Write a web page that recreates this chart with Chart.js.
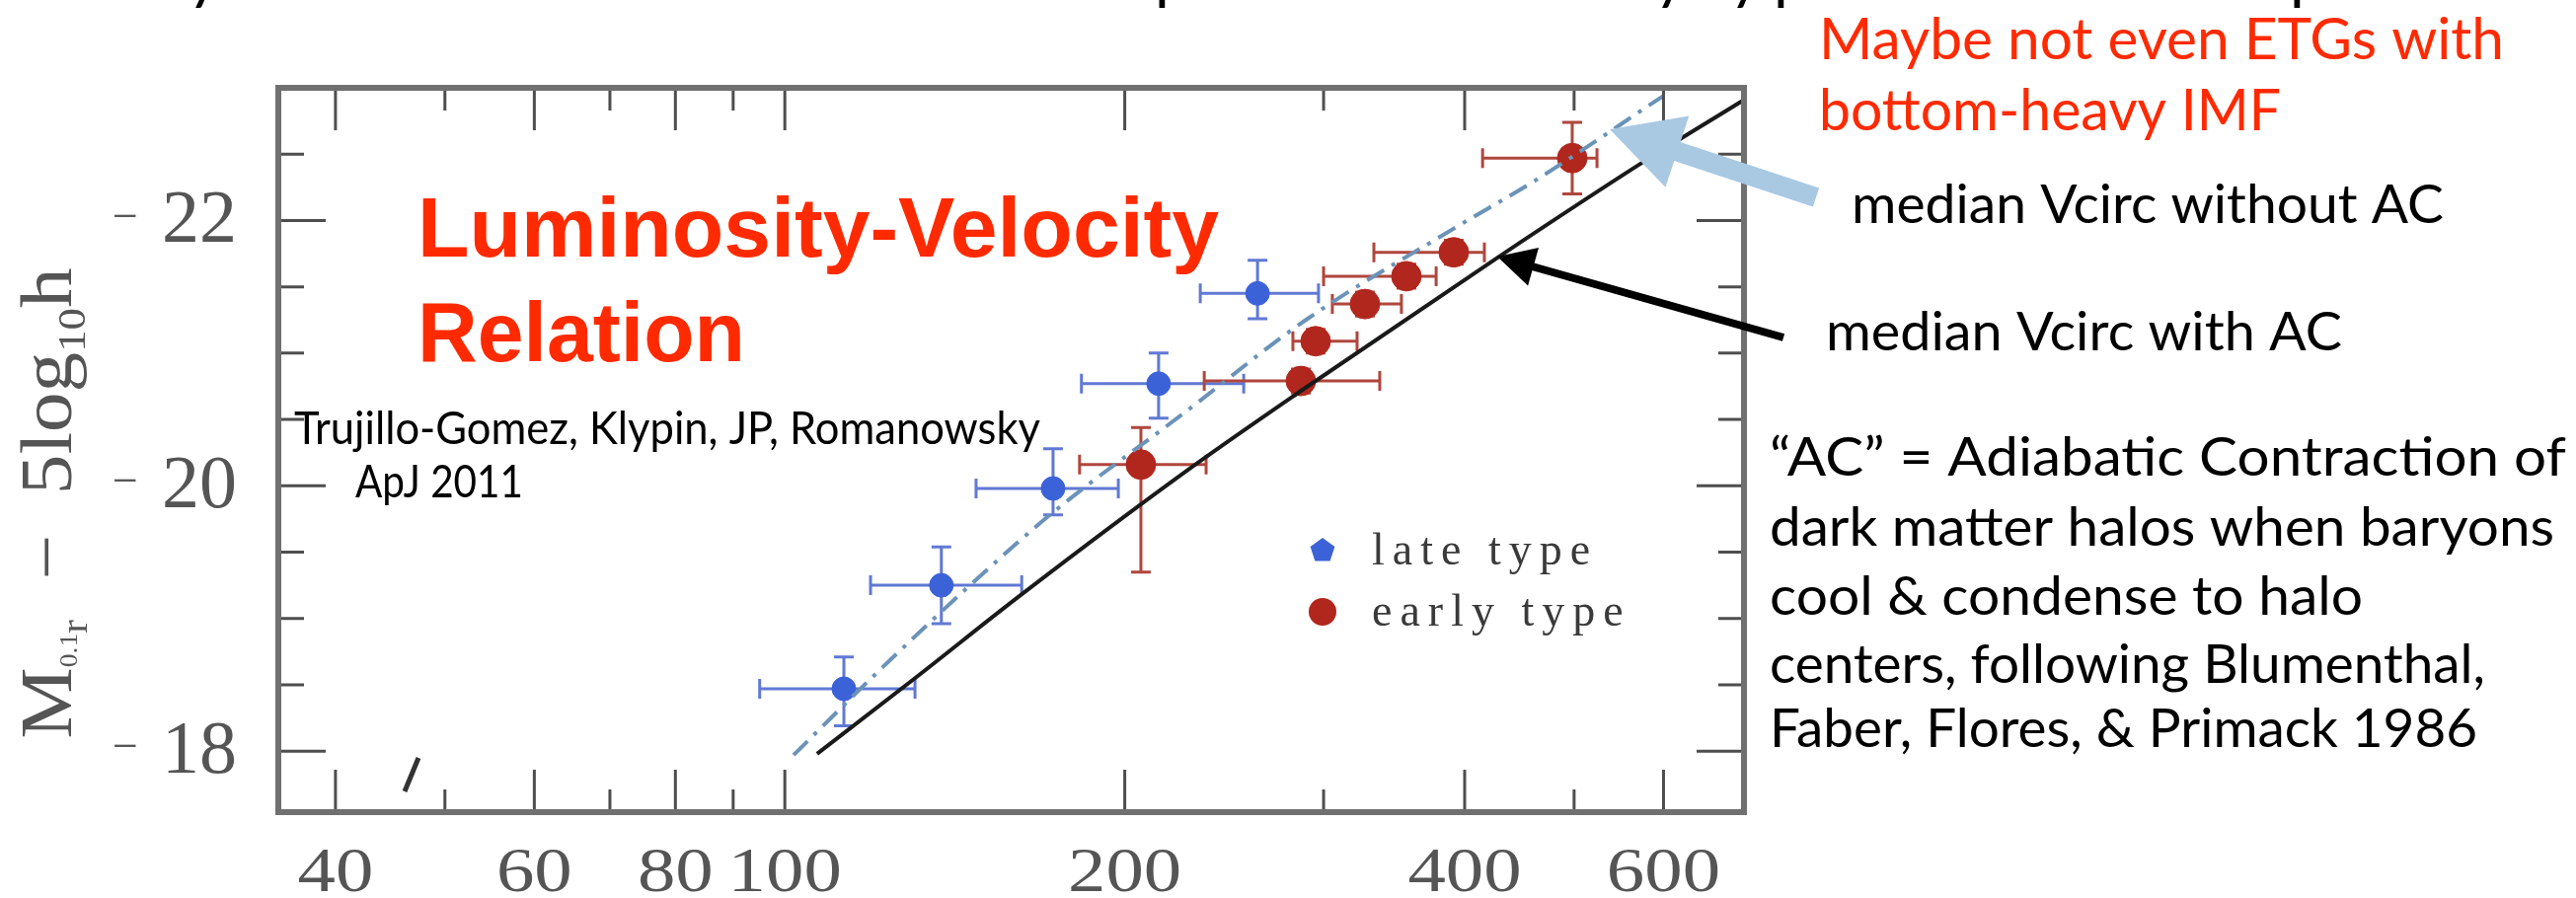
<!DOCTYPE html>
<html>
<head>
<meta charset="utf-8">
<script src="https://cdn.jsdelivr.net/npm/chart.js@4.4.1/dist/chart.umd.min.js"></script>
<style>
  html, body { margin: 0; padding: 0; background: #fff; }
  #wrap { position: relative; width: 2610px; height: 910px; }
</style>
</head>
<body>
<div id="wrap"><canvas id="lvChart"></canvas></div>
<script>
// Late-type galaxies: circular velocity (km/s) and absolute magnitude, with error ranges
const lateV   = [112.8, 137.6, 172.8, 214.3, 262.2];
const lateVLo = [95.0, 119.1, 147.7, 183.1, 233.3];
const lateVHi = [130.4, 162.1, 197.4, 254.9, 296.9];
const lateM   = [-18.47, -19.25, -19.98, -20.77, -21.45];
const lateMLo = [-18.71, -19.54, -20.28, -21.00, -21.70];
const lateMHi = [-18.19, -18.96, -19.78, -20.51, -21.26];

// Early-type galaxies
const earlyV   = [206.7, 286.4, 295.2, 326.4, 355.2, 391.2, 498.1];
const earlyVLo = [182.4, 235.2, 281.8, 305.4, 300.0, 332.4, 414.9];
const earlyVHi = [236.1, 336.4, 321.2, 351.6, 377.4, 416.4, 523.9];
const earlyM   = [-20.16, -20.79, -21.09, -21.37, -21.58, -21.76, -22.47];
const earlyMLo = [-20.44, -20.88, -21.18, -21.46, -21.67, -21.85, -22.74];
const earlyMHi = [-19.35, -20.70, -21.00, -21.28, -21.49, -21.67, -22.20];

// Model curves: median Vcirc with adiabatic contraction (solid) and without (dash-dot)
const withAcV = [106.8, 130.4, 161.4, 225.8, 287.0, 427.7, 578.0, 704.0];
const withAcM = [-17.98, -18.55, -19.17, -20.10, -20.72, -21.72, -22.45, -22.90];
const noAcV = [101.8, 120.3, 145.9, 172.8, 225.8, 289.3, 389.6, 461.6, 600.0];
const noAcM = [-17.97, -18.58, -19.25, -19.80, -20.55, -21.25, -21.93, -22.30, -22.94];

// Axis ticks
const xMajorTicks = [40, 60, 80, 100, 200, 400, 600];
const xMinorTicks = [50, 70, 90, 300, 500];
const yMajorTicks = [-22, -20, -18];
const yMinorTicks = [-22.5, -21.5, -21, -20.5, -19.5, -19, -18.5];

const BLUE = '#3c62d8';
const BLUE_BAR = '#6079d4';
const RED = '#b1271d';
const RED_BAR = '#b0463c';
const ANNOT_RED = '#ff2a00';
const AXIS_GRAY = '#707070';
const TICK_GRAY = '#4e4e4e';
const LABEL_GRAY = '#555555';

const toPoints = (xs, ys) => xs.map((v, i) => ({ x: v, y: ys[i] }));

function fitText(ctx, text, x, y, font, width, color) {
  ctx.save();
  ctx.font = font;
  ctx.fillStyle = color;
  ctx.textBaseline = 'alphabetic';
  ctx.textAlign = 'left';
  const w = ctx.measureText(text).width;
  ctx.translate(x, y);
  ctx.scale(width / w, 1);
  ctx.fillText(text, 0, 0);
  ctx.restore();
}

function drawErrorBars(ctx, xs, ys, vs, vLo, vHi, m, mLo, mHi, color) {
  const cap = 10;
  ctx.save();
  ctx.strokeStyle = color;
  ctx.lineWidth = 3;
  for (let i = 0; i < vs.length; i++) {
    const px = xs.getPixelForValue(vs[i]);
    const py = ys.getPixelForValue(m[i]);
    const x0 = xs.getPixelForValue(vLo[i]);
    const x1 = xs.getPixelForValue(vHi[i]);
    const y0 = ys.getPixelForValue(mLo[i]);
    const y1 = ys.getPixelForValue(mHi[i]);
    ctx.beginPath();
    ctx.moveTo(x0, py); ctx.lineTo(x1, py);
    ctx.moveTo(x0, py - cap); ctx.lineTo(x0, py + cap);
    ctx.moveTo(x1, py - cap); ctx.lineTo(x1, py + cap);
    ctx.moveTo(px, y0); ctx.lineTo(px, y1);
    ctx.moveTo(px - cap, y0); ctx.lineTo(px + cap, y0);
    ctx.moveTo(px - cap, y1); ctx.lineTo(px + cap, y1);
    ctx.stroke();
  }
  ctx.restore();
}

function drawArrow(ctx, tail, tip, shaft, headLen, headHalf, color) {
  const dx = tip[0] - tail[0], dy = tip[1] - tail[1];
  const len = Math.hypot(dx, dy);
  const ux = dx / len, uy = dy / len;
  const bx = tip[0] - ux * headLen, by = tip[1] - uy * headLen;
  ctx.save();
  ctx.strokeStyle = color;
  ctx.fillStyle = color;
  ctx.lineWidth = shaft;
  ctx.lineCap = 'butt';
  ctx.beginPath();
  ctx.moveTo(tail[0], tail[1]);
  ctx.lineTo(bx + ux * 4, by + uy * 4);
  ctx.stroke();
  ctx.beginPath();
  ctx.moveTo(tip[0], tip[1]);
  ctx.lineTo(bx - uy * headHalf, by + ux * headHalf);
  ctx.lineTo(bx + uy * headHalf, by - ux * headHalf);
  ctx.closePath();
  ctx.fill();
  ctx.restore();
}

const errorBarPlugin = {
  id: 'errorBars',
  beforeDatasetsDraw(chart) {
    const { ctx, scales: { x, y } } = chart;
    drawErrorBars(ctx, x, y, lateV, lateVLo, lateVHi, lateM, lateMLo, lateMHi, BLUE_BAR);
    drawErrorBars(ctx, x, y, earlyV, earlyVLo, earlyVHi, earlyM, earlyMLo, earlyMHi, RED_BAR);
  }
};

const framePlugin = {
  id: 'frame',
  afterDatasetsDraw(chart) {
    const { ctx, chartArea: a, scales: { x, y } } = chart;
    ctx.save();
    // ticks pointing inward on all four sides
    ctx.strokeStyle = TICK_GRAY;
    ctx.lineWidth = 3;
    ctx.beginPath();
    const xt = (v, len) => {
      const px = x.getPixelForValue(v);
      ctx.moveTo(px, a.bottom); ctx.lineTo(px, a.bottom - len);
      ctx.moveTo(px, a.top); ctx.lineTo(px, a.top + len);
    };
    const yt = (v, len) => {
      const py = y.getPixelForValue(v);
      ctx.moveTo(a.left, py); ctx.lineTo(a.left + len, py);
      ctx.moveTo(a.right, py); ctx.lineTo(a.right - len, py);
    };
    xMajorTicks.forEach(v => xt(v, 43));
    xMinorTicks.forEach(v => xt(v, 23));
    yMajorTicks.forEach(v => yt(v, 48));
    yMinorTicks.forEach(v => yt(v, 26));
    ctx.stroke();

    ctx.strokeStyle = AXIS_GRAY;
    ctx.lineWidth = 6;
    ctx.strokeRect(a.left, a.top, a.right - a.left, a.bottom - a.top);

    // stray pen mark near the lower-left corner
    ctx.strokeStyle = '#333';
    ctx.lineWidth = 5;
    ctx.beginPath();
    ctx.moveTo(424, 768); ctx.lineTo(410, 802);
    ctx.stroke();

    // tick labels
    ctx.fillStyle = LABEL_GRAY;
    ctx.textAlign = 'center';
    ctx.textBaseline = 'alphabetic';
    xMajorTicks.forEach(v => {
      const px = x.getPixelForValue(v);
      ctx.save();
      ctx.font = '64px "Liberation Serif"';
      ctx.translate(px, 903);
      ctx.scale(1.2, 1);
      ctx.fillText(String(v), 0, 0);
      ctx.restore();
    });
    yMajorTicks.forEach(v => {
      const py = y.getPixelForValue(v);
      ctx.save();
      ctx.textAlign = 'right';
      ctx.textBaseline = 'middle';
      ctx.font = '76px "Liberation Serif"';
      ctx.fillText(String(Math.abs(v)), 240, py + 2);
      ctx.font = '46px "Liberation Serif"';
      ctx.fillText('\u2212', 140, py - 2);
      ctx.restore();
    });

    // rotated y axis title: M_{0.1r} - 5 log_10 h
    const parts = [
      { t: 'M', s: 1, dy: 0 },
      { t: '0.1', s: 0.34, dy: 6 },
      { t: 'r', s: 0.5, dy: 16 },
      { t: '  \u2212  5log', s: 1, dy: 0 },
      { t: '10', s: 0.55, dy: 14 },
      { t: 'h', s: 1, dy: 0 }
    ];
    const base = 74;
    let total = 0;
    parts.forEach(p => {
      ctx.font = (base * p.s) + 'px "Liberation Serif"';
      p.w = ctx.measureText(p.t).width;
      total += p.w;
    });
    const k = 477 / total;
    ctx.save();
    ctx.translate(72, 510);
    ctx.rotate(-Math.PI / 2);
    ctx.scale(k, 1);
    ctx.textAlign = 'left';
    ctx.textBaseline = 'alphabetic';
    let cx = -total / 2;
    parts.forEach(p => {
      ctx.font = (base * p.s) + 'px "Liberation Serif"';
      ctx.fillText(p.t, cx, p.dy);
      cx += p.w;
    });
    ctx.restore();

    // legend: pentagon for late type, disc for early type
    ctx.fillStyle = BLUE;
    ctx.beginPath();
    for (let i = 0; i < 5; i++) {
      const ang = -Math.PI / 2 + i * 2 * Math.PI / 5;
      const px = 1340 + 13 * Math.cos(ang), py = 558 + 13 * Math.sin(ang);
      if (i === 0) ctx.moveTo(px, py); else ctx.lineTo(px, py);
    }
    ctx.closePath();
    ctx.fill();
    ctx.fillStyle = RED;
    ctx.beginPath();
    ctx.arc(1340, 620, 14, 0, Math.PI * 2);
    ctx.fill();
    ctx.fillStyle = '#3a3a3a';
    ctx.font = '46px "Liberation Serif"';
    ctx.letterSpacing = '8px';
    ctx.textAlign = 'left';
    ctx.textBaseline = 'middle';
    ctx.fillText('late type', 1390, 560);
    ctx.fillText('early type', 1390, 622);
    ctx.letterSpacing = '0px';
    ctx.restore();
  }
};

const annotationPlugin = {
  id: 'slideText',
  afterDraw(chart) {
    const ctx = chart.ctx;
    // bottom of the slide headline, clipped by the top edge
    ctx.save();
    ctx.fillStyle = '#000';
    ctx.font = '64px Lato';
    ctx.textBaseline = 'alphabetic';
    ctx.fillText('y', 190, -3);
    ctx.fillText('p', 1170, -3);
    ctx.fillText('y', 1676, -3);
    ctx.fillText('y', 1752, -3);
    ctx.fillText('p', 1797, -3);
    ctx.fillText('p', 2320, -3);
    ctx.restore();

    fitText(ctx, 'Luminosity-Velocity', 423, 260, 'bold 86px "Liberation Sans"', 812, ANNOT_RED);
    fitText(ctx, 'Relation', 423, 366, 'bold 86px "Liberation Sans"', 332, ANNOT_RED);
    fitText(ctx, 'Trujillo-Gomez, Klypin, JP, Romanowsky', 298, 450, '46px Lato', 756, '#000');
    fitText(ctx, 'ApJ 2011', 360, 504, '46px Lato', 170, '#000');

    fitText(ctx, 'Maybe not even ETGs with', 1843, 60, '58px Lato', 694, ANNOT_RED);
    fitText(ctx, 'bottom-heavy IMF', 1843, 132, '58px Lato', 468, ANNOT_RED);

    drawArrow(ctx, [1840, 200], [1631, 131], 20, 72, 38, '#a9c8e2');
    drawArrow(ctx, [1807, 342], [1517, 260], 8, 38, 20, '#000');

    fitText(ctx, 'median Vcirc without AC', 1876, 226, '54px Lato', 600, '#000');
    fitText(ctx, 'median Vcirc with AC', 1850, 355, '54px Lato', 523, '#000');

    const para = [
      ['\u201CAC\u201D = Adiabatic Contraction of', 482, 807],
      ['dark matter halos when baryons', 553, 795],
      ['cool & condense to halo', 623, 601],
      ['centers, following Blumenthal,', 692, 725],
      ['Faber, Flores, & Primack 1986', 757, 717]
    ];
    para.forEach(([t, yb, w]) => fitText(ctx, t, 1793, yb, '54px Lato', w, '#000'));
  }
};

new Chart(document.getElementById('lvChart'), {
  type: 'scatter',
  data: {
    datasets: [
      {
        label: 'median Vcirc with AC',
        type: 'line',
        data: toPoints(withAcV, withAcM),
        borderColor: '#1a1a1a',
        borderWidth: 4,
        pointRadius: 0,
        cubicInterpolationMode: 'monotone',
        fill: false
      },
      {
        label: 'median Vcirc without AC',
        type: 'line',
        data: toPoints(noAcV, noAcM),
        borderColor: '#6b93b8',
        borderWidth: 4,
        borderDash: [20, 9, 4, 9],
        pointRadius: 0,
        cubicInterpolationMode: 'monotone',
        fill: false
      },
      {
        label: 'late type',
        data: toPoints(lateV, lateM),
        backgroundColor: BLUE,
        borderColor: BLUE,
        pointRadius: 12,
        pointHoverRadius: 12
      },
      {
        label: 'early type',
        data: toPoints(earlyV, earlyM),
        backgroundColor: RED,
        borderColor: RED,
        pointRadius: 15,
        pointHoverRadius: 15
      }
    ]
  },
  options: {
    responsive: true,
    maintainAspectRatio: false,
    animation: false,
    layout: {
      padding: { left: 282, top: 89, right: 843, bottom: 87 }
    },
    plugins: {
      legend: { display: false },
      tooltip: { enabled: false }
    },
    scales: {
      x: {
        type: 'logarithmic',
        min: 35.6,
        max: 707,
        display: false
      },
      y: {
        type: 'linear',
        min: -23,
        max: -17.54,
        reverse: true,
        display: false
      }
    }
  },
  plugins: [errorBarPlugin, framePlugin, annotationPlugin]
});
</script>
</body>
</html>
